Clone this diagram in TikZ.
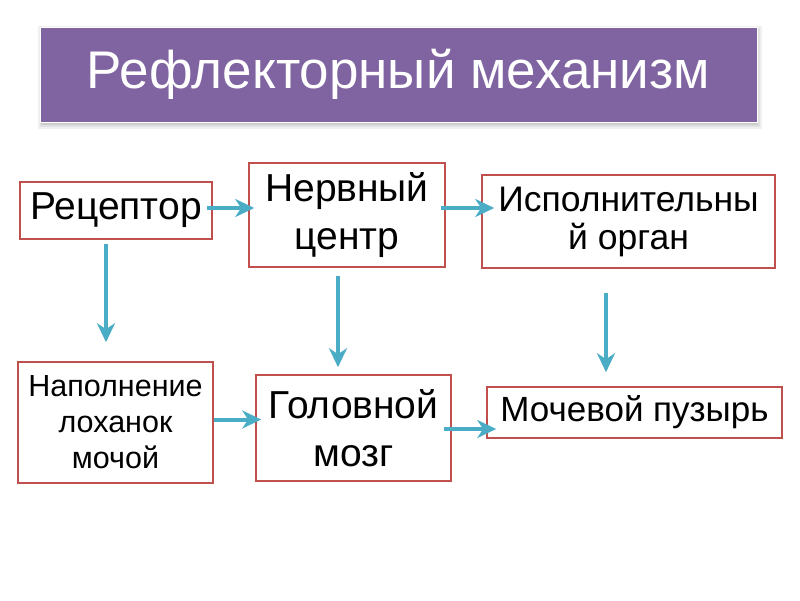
\documentclass[tikz,border=0pt]{standalone}
\usepackage{fontspec}
\setmainfont{Liberation Sans}
\usetikzlibrary{arrows.meta}
\definecolor{ttl}{HTML}{8064A2}
\definecolor{boxred}{HTML}{C0504D}
\definecolor{arrblue}{HTML}{4BACC6}
\tikzset{
  box/.style={draw=boxred, line width=1.6pt, fill=white, inner sep=0pt, align=center, text=black},
  arr/.style={draw=arrblue, line width=4pt, -{Stealth[length=19pt,width=18pt,inset=6pt]}},
  bigf/.style={font=\fontsize{39}{48}\selectfont},
}
\begin{document}
\begin{tikzpicture}[x=1pt,y=-1pt]
\useasboundingbox (0,0) rectangle (800,600);
\fill[white] (0,0) rectangle (800,600);
% title shadow
\fill[black!6] (38,26) rectangle (762,129);
\fill[black!12] (40,28) rectangle (760,127);
\fill[black!20] (41,29) rectangle (758,125);
\node[fill=ttl, draw=white, line width=1pt, minimum width=717pt, minimum height=95pt, inner sep=0pt, text=white,
      font=\fontsize{53}{60}\selectfont] (title) at (398.5,74.5) {Рефлекторный механизм};
% boxes
\node[box, bigf, minimum width=192pt, minimum height=57pt] (rec) at (116,210.5) {Рецептор};
\node[box, bigf, minimum width=196pt, minimum height=104pt] (nerv) at (347,215) {Нервный\\центр};
\node[box, font=\fontsize{35.5}{38}\selectfont, minimum width=293pt, minimum height=93pt] (isp) at (628.5,221.5) {Исполнительны\\й орган};
\node[box, font=\fontsize{30.5}{36}\selectfont, minimum width=195pt, minimum height=121pt] (nap) at (115.5,422.5) {Наполнение\\лоханок\\мочой};
\node[box, bigf, minimum width=195pt, minimum height=106pt] (gol) at (353.5,428) {Головной\\мозг};
\node[box, font=\fontsize{35}{40}\selectfont, minimum width=295pt, minimum height=51pt] (moch) at (634.5,412.5) {Мочевой пузырь};
% arrows
\draw[arr, shorten <=-6pt, shorten >=-6pt] ([yshift=2.5pt]rec.east) -- ([yshift=2.5pt]rec.east -| nerv.west);
\draw[arr, shorten <=-5pt, shorten >=-13pt] ([yshift=2.5pt]rec.east -| nerv.east) -- ([yshift=2.5pt]rec.east -| isp.west);
\draw[arr, shorten <=4pt, shorten >=19pt] ([xshift=-10pt]rec.south) -- ([xshift=-10pt]rec.south |- nap.north);
\draw[arr, shorten <=8pt, shorten >=7pt] ([xshift=-9pt]nerv.south) -- ([xshift=-9pt]nerv.south |- gol.north);
\draw[arr, shorten <=24pt, shorten >=14pt] ([xshift=-22.5pt]isp.south) -- ([xshift=-22.5pt]isp.south |- moch.north);
\draw[arr, shorten <=0pt, shorten >=-6pt] ([yshift=3pt]nap.east) -- ([yshift=3pt]nap.east -| gol.west);
\draw[arr, shorten <=-8pt, shorten >=-10pt] ([yshift=-1pt]gol.east) -- ([yshift=-1pt]gol.east -| moch.west);
\end{tikzpicture}
\end{document}
